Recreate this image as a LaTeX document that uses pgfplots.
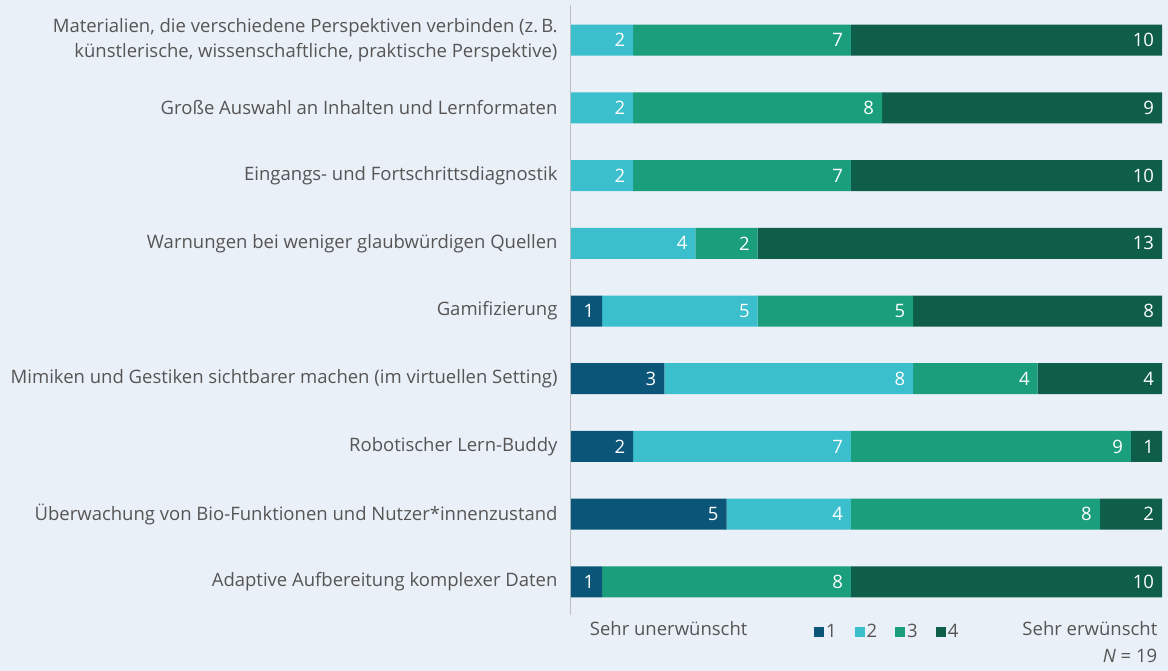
\documentclass[border=0pt]{standalone}
\usepackage{pgfplots}
\pgfplotsset{compat=1.18}
\usepackage{fontspec}
\setmainfont{Open Sans}

\definecolor{bgc}{HTML}{EAF0F7}
\definecolor{cone}{HTML}{0B5578}
\definecolor{ctwo}{HTML}{3BBFCD}
\definecolor{cthree}{HTML}{1A9E7C}
\definecolor{cfour}{HTML}{0E5E4A}
\definecolor{labgray}{HTML}{555555}

\pgfplotstableread{
idx a b c d
0 0 2 7 10
1 0 2 8 9
2 0 2 7 10
3 0 4 2 13
4 1 5 5 8
5 3 8 4 4
6 2 7 9 1
7 5 4 8 2
8 1 0 8 10
}\datatable

\newcommand{\fs}{\fontsize{18.5pt}{25.5pt}\selectfont}
\newdimen\segw
% label right-aligned inside its segment (node sits at the segment centre)
\newcommand{\seglabel}{%
  \pgfmathfloatparsenumber{\pgfplotspointmeta}%
  \pgfmathfloatifflags{\pgfmathresult}{0}{}{%
    \pgfmathfloattofixed{\pgfmathresult}%
    \segw=\pgfmathresult pt\relax
    \segw=31.105\segw
    \makebox[\segw][r]{\pgfmathprintnumber[assume math mode=true]{\pgfplotspointmeta}\hspace{8pt}}}}

\begin{document}
\begin{tikzpicture}
\fill[bgc] (0,0) rectangle (1168pt,671pt);
\begin{axis}[
    at={(571pt,56pt)}, anchor=south west,
    scale only axis,
    width=591pt, height=610pt,
    xbar stacked,
    bar width=31pt,
    xmin=0, xmax=19,
    ymin=-0.52, ymax=8.49,
    y dir=reverse,
    axis x line=none,
    axis y line*=left,
    y axis line style={draw=black!25, line width=1pt, -},
    ytick=data,
    ytick style={draw=none},
    yticklabels={
      {Materialien, die verschiedene Perspektiven verbinden (z.\,B.\\künstlerische, wissenschaftliche, praktische Perspektive)},
      {Große Auswahl an Inhalten und Lernformaten},
      {Eingangs- und Fortschrittsdiagnostik},
      {Warnungen bei weniger glaubwürdigen Quellen},
      {Gamifizierung},
      {Mimiken und Gestiken sichtbarer machen (im virtuellen Setting)},
      {Robotischer Lern-Buddy},
      {Überwachung von Bio-Funktionen und Nutzer*innenzustand},
      {Adaptive Aufbereitung komplexer Daten}},
    yticklabel style={font=\fs, text=labgray, align=right, xshift=-10pt},
    nodes near coords={\seglabel},
    every node near coord/.append style={anchor=center, font=\fs, text=white, inner sep=0pt},
    legend style={at={(0.535,-0.008)}, anchor=north, draw=none, fill=none,
      font=\fs, text=labgray, legend columns=4,
      /tikz/every even column/.append style={column sep=16pt}},
    legend image code/.code={\fill[#1, draw=none] (0pt,-5pt) rectangle (10pt,5pt);},
    clip=false,
]
\addplot[fill=cone, draw=none] table[x=a, y=idx] {\datatable};
\addplot[fill=ctwo, draw=none] table[x=b, y=idx] {\datatable};
\addplot[fill=cthree, draw=none] table[x=c, y=idx] {\datatable};
\addplot[fill=cfour, draw=none] table[x=d, y=idx] {\datatable};
\legend{1,2,3,4}
\node[anchor=north west, font=\fs, text=labgray] at (axis description cs:0.026,-0.005) {Sehr unerwünscht};
\node[anchor=north east, font=\fs, text=labgray] at (axis description cs:0.998,-0.005) {Sehr erwünscht};
\node[anchor=north east, font=\fs, text=labgray] at (axis description cs:0.998,-0.05) {\textit{N} = 19};
\end{axis}
\end{tikzpicture}
\end{document}
